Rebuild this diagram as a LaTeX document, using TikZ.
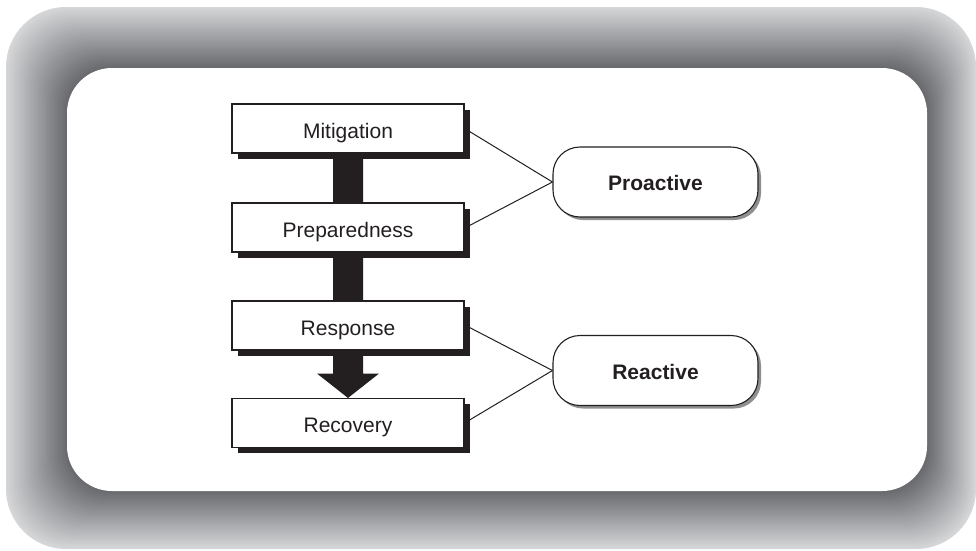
\documentclass[tikz,border=0pt]{standalone}
\usepackage{fontspec}
\setmainfont{Liberation Sans}
\usetikzlibrary{calc,shadows}
\pgfdeclarelayer{back}
\pgfdeclarelayer{bg}
\pgfsetlayers{back,bg,main}
\definecolor{frameouter}{RGB}{214,215,217}
\definecolor{frameinner}{RGB}{104,105,109}
\definecolor{ink}{RGB}{35,31,32}
% label set on its baseline, shifted below the node centre
\newcommand{\lowlabel}[2]{\raisebox{-#1}[0pt][0pt]{#2}}
\tikzset{
  phase/.style={draw=ink, line width=1.1pt, fill=white, minimum width=232pt,
    minimum height=49pt, inner sep=0pt, text=ink,
    font=\fontsize{21}{25}\selectfont,
    drop shadow={shadow xshift=5.5pt, shadow yshift=-5.5pt, fill=ink, opacity=1}},
  mode/.style={draw=ink, line width=1.1pt, fill=white, rounded corners=27pt,
    minimum width=205pt, minimum height=70pt, inner sep=0pt, text=ink,
    font=\bfseries\fontsize{21}{25}\selectfont,
    drop shadow={shadow xshift=3pt, shadow yshift=-3pt, fill=black!55, opacity=0.8}},
  link/.style={draw=ink, line width=1pt},
  flowbar/.style={fill=ink}
}
\begin{document}
\begin{tikzpicture}[x=1pt,y=-1pt]
\useasboundingbox (0,0) rectangle (976,550);

% shaded frame around the white panel
\begin{pgfonlayer}{back}
\foreach \i in {0,...,64}{
  \pgfmathsetmacro\t{\i/64}
  \pgfmathsetmacro\xa{6+61*\t}
  \pgfmathsetmacro\ya{7+61*\t}
  \pgfmathsetmacro\xb{976-49*\t}
  \pgfmathsetmacro\yb{549-58*\t}
  \pgfmathsetmacro\rr{60-15*\t}
  \pgfmathsetmacro\p{100*\t}
  \fill[frameinner!\p!frameouter, rounded corners=\rr pt] (\xa,\ya) rectangle (\xb,\yb);
}
\fill[white, rounded corners=45pt] (67,68) rectangle (927,491);
\end{pgfonlayer}

% phases
\node[phase] (mit)  at (348,128.5) {\lowlabel{9.5pt}{Mitigation}};
\node[phase] (prep) at (348,227.5) {\lowlabel{9.5pt}{Preparedness}};
\node[phase] (resp) at (348,325.5) {\lowlabel{9.5pt}{Response}};
\node[phase] (rec)  at (348,423)   {\lowlabel{9.5pt}{Recovery}};

% modes
\node[mode] (pro) at (655.5,182)   {\lowlabel{8.5pt}{Proactive}};
\node[mode] (rea) at (655.5,370.5) {\lowlabel{8.5pt}{Reactive}};

% thick flow bar ending in an arrow head
\begin{pgfonlayer}{bg}
\fill[flowbar] ($(mit.south)+(-15,0)$) -- ($(resp.south)+(-15,23)$)
  -- ($(resp.south)+(-31,23)$) -- (rec.north) -- ($(resp.south)+(31,23)$)
  -- ($(resp.south)+(15,23)$) -- ($(mit.south)+(15,0)$) -- cycle;
\end{pgfonlayer}

% connectors
\draw[link] ($(mit.east)+(5,3)$) -- (pro.west);
\draw[link] ($(prep.east)+(5,-2)$) -- (pro.west);
\draw[link] ($(resp.east)+(5,2)$) -- (rea.west);
\draw[link] ($(rec.east)+(5,-3)$) -- (rea.west);
\end{tikzpicture}
\end{document}
